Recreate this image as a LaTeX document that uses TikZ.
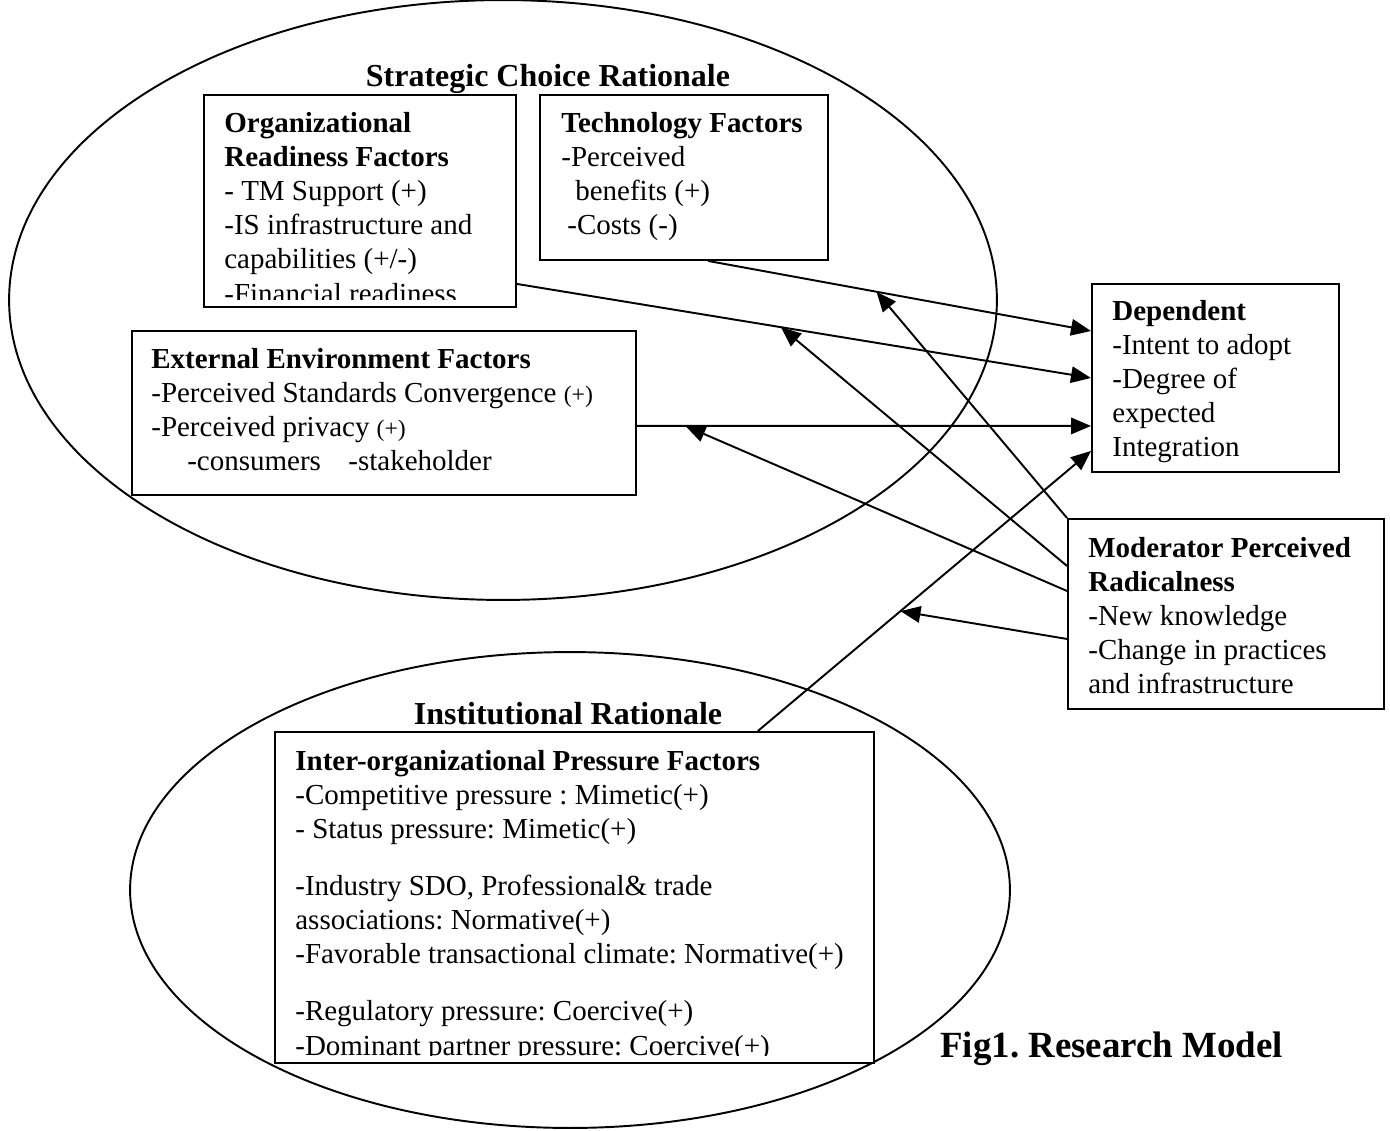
\documentclass[tikz,border=0pt]{standalone}
\usepackage{fontspec}
\setmainfont{Liberation Serif}
\usetikzlibrary{arrows.meta, calc}
\frenchspacing
\newcommand{\boxfont}{\fontsize{16.5}{19.4}\selectfont}
\newcommand{\ttlfont}{\fontsize{18.2}{21}\selectfont\bfseries}
\newcommand{\sml}[1]{{\fontsize{13.5}{16}\selectfont #1}}

\begin{document}
\begin{tikzpicture}[
  x=0.02cm, y=-0.02cm,
  fbox/.style={
    draw, line width=1.1pt, fill=white,
    anchor=north west, inner sep=0pt
  },
  % anchored at the baseline of the last line
  txt/.style={anchor=base west, align=left, inner sep=0pt, font=\boxfont},
  ttl/.style={anchor=base, inner sep=0pt, font=\ttlfont},
  ring/.style={line width=1.1pt},
  arr/.style={-{Triangle[length=0.4cm, width=0.33cm]}, line width=1.1pt},
]

\useasboundingbox (0,0) rectangle (1390,1130);

%% ---- Rationale ellipses ----
\draw[ring] (503,300) ellipse [x radius=9.88cm, y radius=6cm];
\draw[ring] (570,890) ellipse [x radius=8.8cm, y radius=4.76cm];
\node[ttl] (sctitle) at (548,86) {Strategic Choice Rationale};
\node[ttl] (irtitle) at (568,724) {Institutional Rationale};

%% ---- Strategic choice factors ----
\node[fbox, minimum width=6.24cm, minimum height=4.24cm] (org) at (203,94) {};
\begin{scope}
  \clip (org.north west) rectangle ([yshift=0.16cm]org.south east);
  \node[txt] (orgtxt) at (224,303)
    {\textbf{Organizational}\\\textbf{Readiness Factors}\\- TM Support (+)\\
     -IS infrastructure and\\capabilities (+/-)\\-Financial readiness};
\end{scope}

\node[fbox, minimum width=5.76cm, minimum height=3.3cm] (tech) at (539,94) {};
\node[txt] (techtxt) at (561,234.6)
  {\textbf{Technology Factors}\\-Perceived\\\hspace*{0.28cm}benefits (+)\\
   \hspace*{0.12cm}-Costs (-)};

\node[fbox, minimum width=10.08cm, minimum height=3.28cm] (ext) at (131,330) {};
\node[txt] (exttxt) at (151,470.6)
  {\textbf{External Environment Factors}\\
   -Perceived Standards Convergence \sml{(+)}\\
   -Perceived privacy \sml{(+)}\\
   \hspace*{0.72cm}-consumers\hspace{0.55cm}-stakeholder};

%% ---- Dependent and moderator ----
\node[fbox, minimum width=4.94cm, minimum height=3.76cm] (dep) at (1091,283) {};
\node[txt] (deptxt) at (1112,456.8)
  {\textbf{Dependent}\\-Intent to adopt\\-Degree of\\expected\\Integration};

\node[fbox, minimum width=6.32cm, minimum height=3.8cm] (mod) at (1067,518) {};
\node[txt] (modtxt) at (1088,693.8)
  {\textbf{Moderator Perceived}\\\textbf{Radicalness}\\-New knowledge\\
   -Change in practices\\and infrastructure};

%% ---- Institutional factors ----
\node[fbox, minimum width=11.98cm, minimum height=6.62cm] (inter) at (274,731) {};
\begin{scope}
  \clip (inter.north west) rectangle ([yshift=0.16cm]inter.south east);
  \node[txt] (intertxt) at (295,1055)
    {\textbf{Inter-organizational Pressure Factors}\\
     -Competitive pressure : Mimetic(+)\\
     - Status pressure: Mimetic(+)\\[0.46cm]
     -Industry SDO, Professional\& trade\\
     associations: Normative(+)\\
     -Favorable transactional climate: Normative(+)\\[0.46cm]
     -Regulatory pressure: Coercive(+)\\
     -Dominant partner pressure: Coercive(+)};
\end{scope}

\node[anchor=base west, inner sep=0pt, font=\fontsize{21}{25}\selectfont\bfseries]
  (figlbl) at (940,1057) {Fig1. Research Model};

%% ---- Paths into the dependent box ----
\draw[arr] ([xshift=0.48cm]tech.south) -- coordinate[pos=0.44] (m1)
  ([yshift=0.94cm]dep.west);
\draw[arr] ([yshift=-1.66cm]org.east) -- coordinate[pos=0.46] (m2) (dep.west);
\draw[arr] ([yshift=-0.26cm]ext.east) -- coordinate[pos=0.107] (m3)
  ([yshift=-0.96cm]dep.west);
\draw[arr] ([xshift=3.67cm]inter.north) -- coordinate[pos=0.428] (m4)
  ([yshift=-1.46cm]dep.west);

%% ---- Moderating arrows ----
\draw[arr] (mod.north west) -- (m1);
\foreach \s/\m in {0.96cm/m2, 0.46cm/m3, -0.5cm/m4}{
  \draw[arr] ([yshift=\s]mod.west) -- (\m);
}

\end{tikzpicture}
\end{document}
